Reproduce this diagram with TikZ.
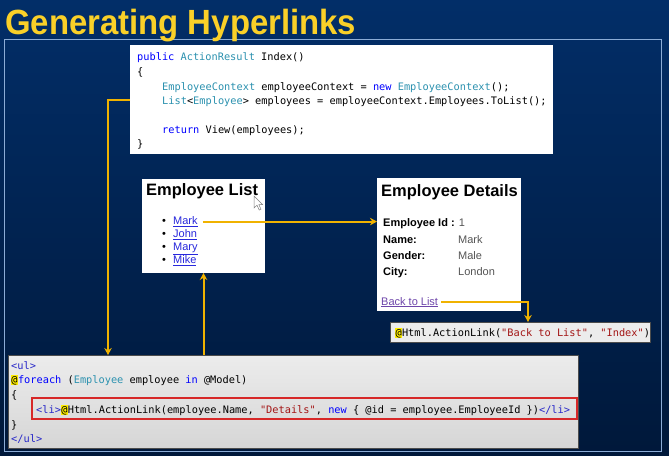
\documentclass[tikz,border=0pt]{standalone}
\usepackage{fontspec}
\setmainfont{Liberation Sans}
\newfontfamily\codefont{DejaVu Sans Mono}
\usetikzlibrary{calc,arrows.meta}

\definecolor{navytop}{RGB}{2,46,104}
\definecolor{navybot}{RGB}{0,24,58}
\definecolor{frameblue}{RGB}{140,172,214}
\definecolor{titleyellow}{RGB}{250,208,40}
\definecolor{wire}{RGB}{240,178,0}
\definecolor{kwblue}{RGB}{0,0,255}
\definecolor{tagblue}{RGB}{40,40,200}
\definecolor{typeteal}{RGB}{43,145,175}
\definecolor{strred}{RGB}{163,21,21}
\definecolor{linkblue}{RGB}{40,40,220}
\definecolor{visited}{RGB}{110,70,170}
\definecolor{valgray}{RGB}{85,85,85}
\definecolor{razorhl}{RGB}{255,238,0}
\definecolor{boxred}{RGB}{215,40,40}

% syntax colouring helpers
\newcommand\ckw[1]{\textcolor{kwblue}{#1}}
\newcommand\ctyp[1]{\textcolor{typeteal}{#1}}
\newcommand\cstr[1]{\textcolor{strred}{#1}}
\newcommand\ctag[1]{\textcolor{tagblue}{#1}}
\newcommand\atmark{{\setlength{\fboxsep}{0.3pt}\colorbox{razorhl}{\vphantom{()}@}}}

\tikzset{
  codeline/.style={anchor=base west, inner sep=0pt, font=\codefont\fontsize{10.3}{12}\selectfont},
  pagetext/.style={anchor=base west, inner sep=0pt, font=\fontsize{11}{13}\selectfont},
  pagetitle/.style={anchor=base west, inner sep=0pt, font=\bfseries\fontsize{16.5}{19}\selectfont},
  panel/.style={anchor=north west, inner sep=0pt, outer sep=0pt},
  wire/.style={draw=wire, line width=2pt, -{Stealth[length=7pt,width=7.5pt]}},
}

\begin{document}
\begin{tikzpicture}[x=1pt,y=-1pt]
\useasboundingbox (0,0) rectangle (669,455);
\shade[top color=navytop, bottom color=navybot] (0,0) rectangle (669,455);
\draw[frameblue, line width=0.8pt] (4,39.5) rectangle (661,451);

% heading
\node[anchor=base west, inner sep=0pt, font=\bfseries\fontsize{35}{40}\selectfont, text=titleyellow]
  (title) at (5,34) {\scalebox{0.94}[1]{Generating Hyperlinks}};

% controller action
\node[panel, fill=white, minimum width=423pt, minimum height=109pt] (codebox) at (130,45) {};
\node[codeline] (c1) at (137,60)    {\ckw{public} \ctyp{ActionResult} Index()};
\node[codeline] (c2) at (137,75)    {\{};
\node[codeline] (c3) at (162,90)    {\ctyp{EmployeeContext} employeeContext = \ckw{new} \ctyp{EmployeeContext}();};
\node[codeline] (c4) at (162,104.5) {\ctyp{List}<\ctyp{Employee}> employees = employeeContext.Employees.ToList();};
\node[codeline] (c5) at (162,133)   {\ckw{return} View(employees);};
\node[codeline] (c6) at (137,147.5) {\}};

% rendered list page
\node[panel, fill=white, minimum width=123pt, minimum height=94pt] (listbox) at (142,179) {};
\node[pagetitle] (listtitle) at (146,195) {Employee List};
\foreach \y/\nm/\who in {224.5/mark/Mark, 237.5/john/John, 250.5/mary/Mary, 263.5/mike/Mike} {
  \node[pagetext] (b\nm) at (162,\y) {\textbullet};
  \node[pagetext, text=linkblue] (\nm) at (173,\y) {\underline{\who}};
}
% mouse pointer
\draw[fill=white, draw=gray, line width=0.5pt]
  (254,196) -- (254,208) -- (257,205.2) -- (259.2,210) -- (261,209.2) -- (258.8,204.5) -- (262.6,204.5) -- cycle;

% rendered details page
\node[panel, fill=white, minimum width=144pt, minimum height=133pt] (detailbox) at (377,178) {};
\node[pagetitle] (dettitle) at (381,196) {Employee Details};
\node[pagetext] (lid) at (383,226.5) {\textbf{Employee Id :} \textcolor{valgray}{1}};
\node[pagetext, font=\bfseries\fontsize{11}{13}\selectfont] (lname) at (383,243) {Name:};
\node[pagetext, text=valgray] (vname) at (458,243) {Mark};
\node[pagetext, font=\bfseries\fontsize{11}{13}\selectfont] (lgender) at (383,259) {Gender:};
\node[pagetext, text=valgray] (vgender) at (458,259) {Male};
\node[pagetext, font=\bfseries\fontsize{11}{13}\selectfont] (lcity) at (383,275) {City:};
\node[pagetext, text=valgray] (vcity) at (458,275) {London};
\node[pagetext, text=visited] (back) at (381,305) {\underline{Back to List}};

% back link markup
\node[panel, fill={rgb,255:red,236;green,236;blue,236}, draw=gray!60!black, line width=0.6pt,
  minimum width=260pt, minimum height=20pt] (linkbox) at (390,322) {};
\node[codeline] (linkcode) at (395,336.5)
  {\atmark Html.ActionLink(\cstr{"Back to List"}, \cstr{"Index"})};

% view markup
\node[panel, top color={rgb,255:red,236;green,236;blue,236}, bottom color={rgb,255:red,214;green,214;blue,214},
  draw=gray!60!black, line width=0.6pt, minimum width=570pt, minimum height=93pt] (viewbox) at (8,355) {};
\node[codeline] (v1) at (11,369)    {\ctag{<ul>}};
\node[codeline] (v2) at (11,383.5)  {\atmark\ckw{foreach} (\ctyp{Employee} employee \ckw{in} @Model)};
\node[codeline] (v3) at (11,398.5)  {\{};
\node[codeline] (v4) at (36,413.5)
  {\ctag{<li>}\atmark Html.ActionLink(employee.Name, \cstr{"Details"}, \ckw{new} \{ @id = employee.EmployeeId \})\ctag{</li>}};
\node[codeline] (v5) at (11,428)    {\}};
\node[codeline] (v6) at (11,442.5)  {\ctag{</ul>}};
\node[panel, draw=boxred, line width=1.5pt, minimum width=545pt, minimum height=21pt] (libox) at (32,398) {};

% connectors
\draw[wire] (codebox.west) -| ($(viewbox.north west)+(100,0)$);
\draw[wire] (listbox.south |- viewbox.north) -- (listbox.south);
\draw[wire] ([xshift=5pt]mark.east) -- (mark.east -| detailbox.west);
\draw[wire] ([xshift=3pt]back.east) -| ($(linkbox.north)+(8,0)$);
\end{tikzpicture}
\end{document}
